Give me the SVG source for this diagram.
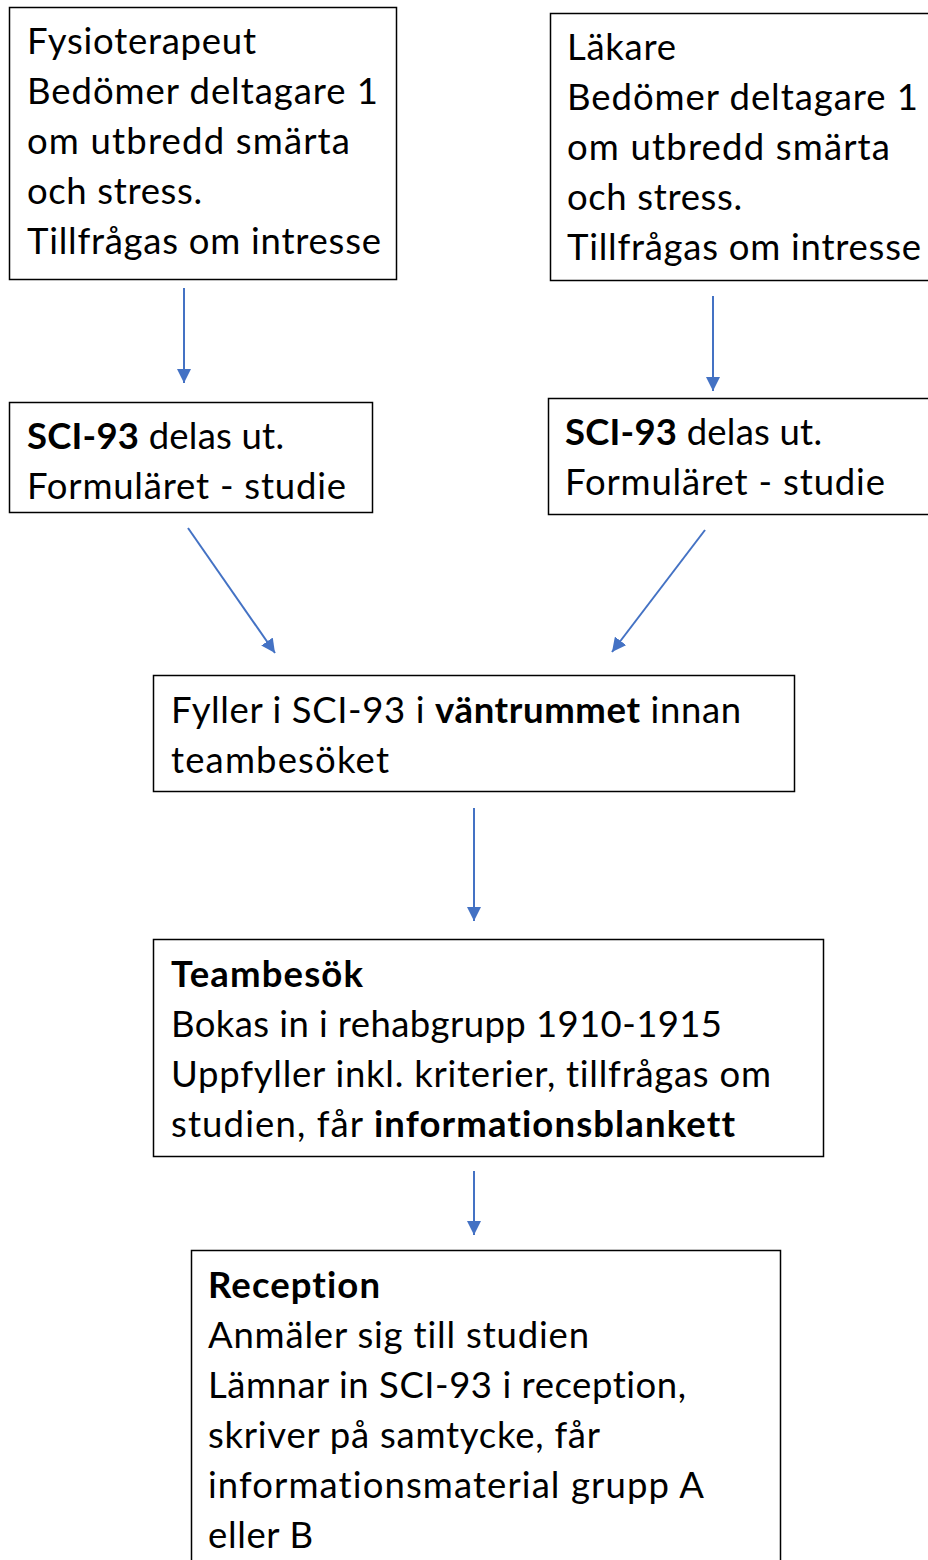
<svg xmlns="http://www.w3.org/2000/svg" width="928" height="1560" viewBox="0 0 928 1560">
<style>
.box{fill:#fff;stroke:#000;stroke-width:1.5}
.t{font-family:Lato,"Liberation Sans",sans-serif;font-size:36.5px;fill:#000;font-variant-ligatures:none;font-feature-settings:"liga" 0,"clig" 0}
.b{font-weight:bold}
.c{stroke:#4472C4;stroke-width:2;fill:none;marker-end:url(#ah)}
</style>
<defs>
<marker id="ah" markerUnits="userSpaceOnUse" markerWidth="14" markerHeight="14" viewBox="0 0 13 13" refX="13" refY="6.5" orient="auto">
<path d="M0,0 L13,6.5 L0,13 z" fill="#4472C4"/>
</marker>
</defs>
<rect width="928" height="1560" fill="#fff"/>
<g id="connectors">
<line class="c" x1="184" y1="288" x2="184" y2="383"/>
<line class="c" x1="713" y1="296" x2="713" y2="391"/>
<line class="c" x1="188" y1="528" x2="275" y2="653"/>
<line class="c" x1="705" y1="530" x2="612" y2="652"/>
<line class="c" x1="474" y1="808" x2="474" y2="921"/>
<line class="c" x1="474" y1="1171" x2="474" y2="1235"/>
</g>
<g id="fysio">
<rect class="box" x="9.5" y="7.5" width="387" height="272"/>
<text class="t" x="27" y="54" textLength="229">Fysioterapeut</text>
<text class="t" x="27" y="104" textLength="351">Bedömer deltagare 1</text>
<text class="t" x="27" y="154" textLength="323">om utbredd smärta</text>
<text class="t" x="27" y="204" textLength="175">och stress.</text>
<text class="t" x="27" y="254" textLength="354">Tillfrågas om intresse</text>
</g>
<g id="lakare">
<rect class="box" x="550.5" y="13.5" width="390" height="267"/>
<text class="t" x="567" y="60" textLength="109">Läkare</text>
<text class="t" x="567" y="110" textLength="351">Bedömer deltagare 1</text>
<text class="t" x="567" y="160" textLength="323">om utbredd smärta</text>
<text class="t" x="567" y="210" textLength="175">och stress.</text>
<text class="t" x="567" y="260" textLength="354">Tillfrågas om intresse</text>
</g>
<g id="sci-left">
<rect class="box" x="9.5" y="402.5" width="363" height="110"/>
<text class="t" x="27" y="449" textLength="257"><tspan class="b">SCI-93</tspan> delas ut.</text>
<text class="t" x="27" y="499" textLength="319">Formuläret - studie</text>
</g>
<g id="sci-right">
<rect class="box" x="548.5" y="398.5" width="392" height="116"/>
<text class="t" x="565" y="445" textLength="257"><tspan class="b">SCI-93</tspan> delas ut.</text>
<text class="t" x="565" y="495" textLength="320">Formuläret - studie</text>
</g>
<g id="fyller">
<rect class="box" x="153.5" y="675.5" width="641" height="116"/>
<text class="t" x="171" y="723" textLength="570">Fyller i SCI-93 i <tspan class="b">väntrummet</tspan> innan</text>
<text class="t" x="171" y="773" textLength="218">teambesöket</text>
</g>
<g id="teambesok">
<rect class="box" x="153.5" y="939.5" width="670" height="217"/>
<text class="t b" x="171" y="987" textLength="192">Teambesök</text>
<text class="t" x="171" y="1037" textLength="551">Bokas in i rehabgrupp 1910-1915</text>
<text class="t" x="171" y="1087" textLength="600">Uppfyller inkl. kriterier, tillfrågas om</text>
<text class="t" x="171" y="1137" textLength="564">studien, får <tspan class="b">informationsblankett</tspan></text>
</g>
<g id="reception">
<rect class="box" x="191.5" y="1250.5" width="589" height="320"/>
<text class="t b" x="208" y="1298" textLength="172">Reception</text>
<text class="t" x="208" y="1348" textLength="381">Anmäler sig till studien</text>
<text class="t" x="208" y="1398" textLength="478">Lämnar in SCI-93 i reception,</text>
<text class="t" x="208" y="1448" textLength="392">skriver på samtycke, får</text>
<text class="t" x="208" y="1498" textLength="496">informationsmaterial grupp A</text>
<text class="t" x="208" y="1548" textLength="105">eller B</text>
</g>
</svg>
